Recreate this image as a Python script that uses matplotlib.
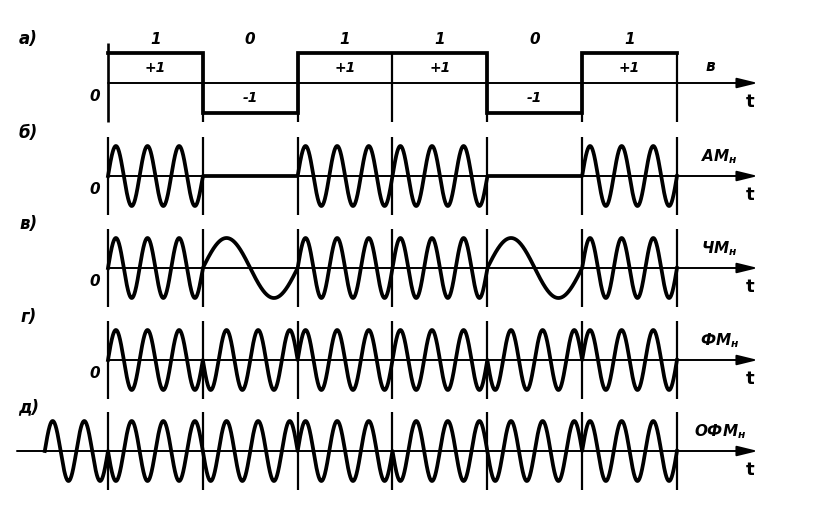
import numpy as np
import matplotlib
matplotlib.use('Agg')
import matplotlib.pyplot as plt

plt.rcParams['mathtext.fontset'] = 'custom'
plt.rcParams['mathtext.it'] = 'DejaVu Sans:italic:bold'
plt.rcParams['mathtext.rm'] = 'DejaVu Sans:bold'

# ---- data ----
bits = [1, 0, 1, 1, 0, 1]
bit_labels = ['1', '0', '1', '1', '0', '1']
level_labels = {1: '+1', 0: '-1'}
panel_letters = ['а)', 'б)', 'в)', 'г)', 'д)']
signal_names = ['в', 'АМ', 'ЧМ', 'ФМ', 'ОФМ']
signal_sub = ['', 'н', 'н', 'н', 'н']
cycles_one = 3        # carrier periods per bit
cycles_zero_fm = 1    # periods per bit for "0" in FM
ref_cycles = 2        # reference periods before first bit in DPSK

# ---- layout ----
W, H = 815, 505
fig = plt.figure(figsize=(8.15, 5.05), dpi=100)
px_per_bit = 94.83
x0_px = 108
xlim = (-x0_px / px_per_bit, (W - x0_px) / px_per_bit)
px_per_unit = 30.0
half_h = 48
centers = [83, 176, 268, 360, 451]
t_arrow = (758 - x0_px) / px_per_bit
nb = len(bits)

axes = []
for c in centers:
    ax = fig.add_axes([0, (H - c - half_h) / H, 1, 2 * half_h / H])
    ax.set_xlim(*xlim)
    ax.set_ylim(-half_h / px_per_unit, half_h / px_per_unit)
    ax.axis('off')
    axes.append(ax)

lw_sig = 2.7
lw_ax = 1.4
lw_div = 1.6
txt = dict(style='italic', fontweight='bold', color='k', family='DejaVu Sans')

def axis_arrow(ax, t_start):
    ax.annotate('', xy=(t_arrow, 0), xytext=(t_start, 0),
                arrowprops=dict(arrowstyle='-|>,head_length=0.9,head_width=0.22',
                                color='k', lw=lw_ax, mutation_scale=14,
                                shrinkA=0, shrinkB=0))
    ax.text(t_arrow - 0.08, -0.32, 't', ha='center', va='top', fontsize=13,
            color='k', family='DejaVu Sans', fontweight='bold')

def label_right(ax, i, tx, ty):
    s = r'$\mathit{' + signal_names[i] + r'}_{\mathit{' + signal_sub[i] + r'}}$'
    ax.text(tx, ty, s, ha='center', va='center', fontsize=11, color='k')

# ---- panel а: binary signal ----
ax = axes[0]
levels = [1 if b else -1 for b in bits]
tb = np.arange(nb + 1)
ax.step(tb, levels + [levels[-1]], where='post', color='k', lw=lw_sig, solid_joinstyle='miter')
ax.vlines(tb[1:], -1.3, 1.0, color='k', lw=lw_div)
ax.vlines(0, -1.3, 1.35, color='k', lw=lw_div + 0.3)
axis_arrow(ax, 0)
for k, b in enumerate(bits):
    ax.text(k + 0.5, 1.45, bit_labels[k], ha='center', va='center', fontsize=11, **txt)
    ax.text(k + 0.5, 0.5 if b else -0.5, level_labels[b], ha='center', va='center', fontsize=10, **txt)
ax.text(-0.08, -0.45, '0', ha='right', va='center', fontsize=11, **txt)
ax.text(6.35, 0.55, signal_names[0], ha='center', va='center', fontsize=11, **txt)

# ---- modulated signals ----
n = 600
t_all = np.linspace(0, nb, nb * n + 1)
idx = np.minimum((t_all).astype(int), nb - 1)
bit_arr = np.array(bits)[idx]

# AM
am = np.where(bit_arr == 1, np.sin(2 * np.pi * cycles_one * t_all), 0.0)
# FM
freq = np.where(bit_arr == 1, cycles_one, cycles_zero_fm)
fm = np.sin(2 * np.pi * freq * (t_all - idx))
# PSK
psk = np.where(bit_arr == 1, 1.0, -1.0) * np.sin(2 * np.pi * cycles_one * t_all)
# DPSK
ph = [1]
for b in bits:
    ph.append(-ph[-1] if b == 1 else ph[-1])
ph_arr = np.array(ph[1:])[idx]
dpsk = ph_arr * np.sin(2 * np.pi * cycles_one * t_all)
t_ref = np.linspace(-ref_cycles / cycles_one, 0, 300)
ref = ph[0] * np.sin(2 * np.pi * cycles_one * t_ref)

sigs = [am, fm, psk, dpsk]
for j, s in enumerate(sigs):
    ax = axes[j + 1]
    if j == 3:
        ax.plot(np.concatenate([t_ref, t_all]), np.concatenate([ref, s]), color='k', lw=lw_sig)
        axis_arrow(ax, -0.96)
    else:
        ax.plot(t_all, s, color='k', lw=lw_sig)
        axis_arrow(ax, 0)
        ax.text(-0.08, -0.45, '0', ha='right', va='center', fontsize=11, **txt)
    ax.vlines(tb, -1.3, 1.3, color='k', lw=lw_div)
    label_right(ax, j + 1, 6.45, 0.65)

# panel letters
for ax, lab in zip(axes, panel_letters):
    ax.text(-0.84, 1.45, lab, ha='center', va='center', fontsize=12, **txt)

fig.savefig('out.png', dpi=100, facecolor='white')
